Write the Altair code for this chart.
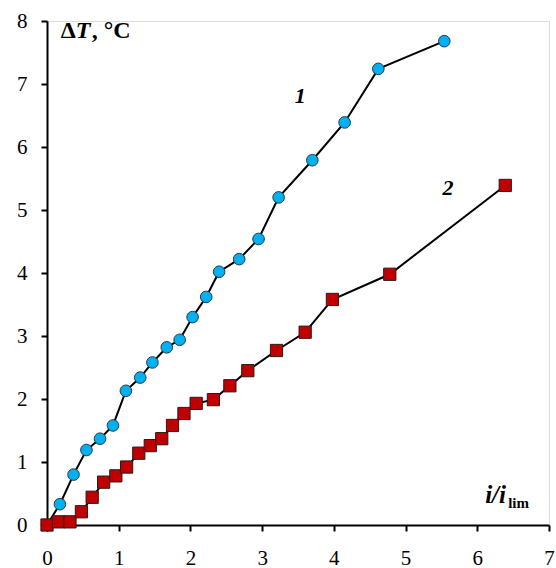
import altair as alt
import pandas as pd

# Curve 1 (circles)
x1 = [0, 0.18, 0.37, 0.55, 0.74, 0.92, 1.10, 1.30, 1.47, 1.67, 1.85, 2.03, 2.22,
      2.40, 2.68, 2.95, 3.23, 3.70, 4.15, 4.62, 5.54]
y1 = [0, 0.33, 0.80, 1.19, 1.37, 1.58, 2.13, 2.34, 2.58, 2.82, 2.94, 3.30, 3.62,
      4.02, 4.22, 4.54, 5.20, 5.79, 6.39, 7.24, 7.68]

# Curve 2 (squares)
x2 = [0, 0.16, 0.32, 0.48, 0.63, 0.79, 0.96, 1.11, 1.28, 1.44, 1.60, 1.75, 1.91,
      2.08, 2.32, 2.55, 2.80, 3.20, 3.60, 3.98, 4.78, 6.39]
y2 = [0, 0.05, 0.05, 0.21, 0.44, 0.68, 0.78, 0.92, 1.14, 1.26, 1.37, 1.58, 1.77,
      1.93, 1.99, 2.21, 2.45, 2.77, 3.06, 3.58, 3.98, 5.39]

x_ticks = [0, 1, 2, 3, 4, 5, 6, 7]
y_ticks = [0, 1, 2, 3, 4, 5, 6, 7, 8]

# annotation anchors (data coords)
curve_labels = ["1", "2"]
curve_label_x = [3.53, 5.59]
curve_label_y = [6.70, 5.24]

df1 = pd.DataFrame({"x": x1, "y": y1, "o": list(range(len(x1)))})
df2 = pd.DataFrame({"x": x2, "y": y2, "o": list(range(len(x2)))})
dlab = pd.DataFrame({"x": curve_label_x, "y": curve_label_y, "t": curve_labels})

FONT = "Liberation Serif"
xs = alt.Scale(domain=[0, 7], nice=False, zero=False)
ys = alt.Scale(domain=[0, 8], nice=False, zero=False)

common = dict(domainColor="black", domainWidth=2, tickColor="black", tickWidth=2,
              tickSize=6, labelFont=FONT, labelFontSize=21, labelColor="black",
              labelFlush=False, labelOverlap=False, grid=False, title=None)
x_axis = alt.Axis(values=x_ticks, labelPadding=16, format="d", **common)
y_axis = alt.Axis(values=y_ticks, labelPadding=14, format="d", **common)

X = alt.X("x:Q", scale=xs, axis=x_axis)
Y = alt.Y("y:Q", scale=ys, axis=y_axis)

line1 = alt.Chart(df1).mark_line(color="black", strokeWidth=2).encode(
    x=X, y=Y, order="o:Q")
pts1 = alt.Chart(df1).mark_point(shape="circle", filled=True, fill="#00B0F0",
                                 stroke="#2a3a44", strokeWidth=1, size=135, opacity=1).encode(x=X, y=Y)
line2 = alt.Chart(df2).mark_line(color="black", strokeWidth=2).encode(
    x=X, y=Y, order="o:Q")
pts2 = alt.Chart(df2).mark_point(shape="square", filled=True, fill="#C00000",
                                 stroke="#2a1a1a", strokeWidth=1, size=150, opacity=1).encode(x=X, y=Y)

labels = alt.Chart(dlab).mark_text(font=FONT, fontSize=22, fontWeight="bold", fontStyle="italic",
                                   baseline="alphabetic", color="black").encode(x=X, y=Y, text="t:N")

# y-axis title pieces
yt = pd.DataFrame({"x": [0.19], "y": [7.73]})
def piece(df, txt, dx=0, dy=0, size=24, style="normal"):
    return alt.Chart(df).mark_text(text=txt, font=FONT, fontSize=size, fontWeight="bold",
                                   fontStyle=style, align="left", baseline="alphabetic",
                                   dx=dx, dy=dy, color="black").encode(x=X, y=Y)

t_delta = piece(yt, "Δ", size=24)
t_T = piece(yt, "T", dx=15, size=24, style="italic")
t_comma = piece(yt, ",", dx=31, size=24)
t_C = piece(yt, "°C", dx=43, size=24)

# x-axis title pieces
xt = pd.DataFrame({"x": [6.11], "y": [0.35]})
t_i = piece(xt, "i/i", size=25, style="italic")
t_lim = piece(xt, "lim", dx=23, dy=5, size=15)

chart = alt.layer(line1, line2, pts1, pts2, labels, t_delta, t_T, t_comma, t_C, t_i, t_lim).properties(
    width=502, height=504,
    padding={"left": 47, "top": 21, "right": 7, "bottom": 43},
    autosize=alt.AutoSizeParams(type="none"),
).configure_view(stroke=None).configure(background="white")

chart.save("out.html", embed_options={"renderer": "svg", "actions": False})
